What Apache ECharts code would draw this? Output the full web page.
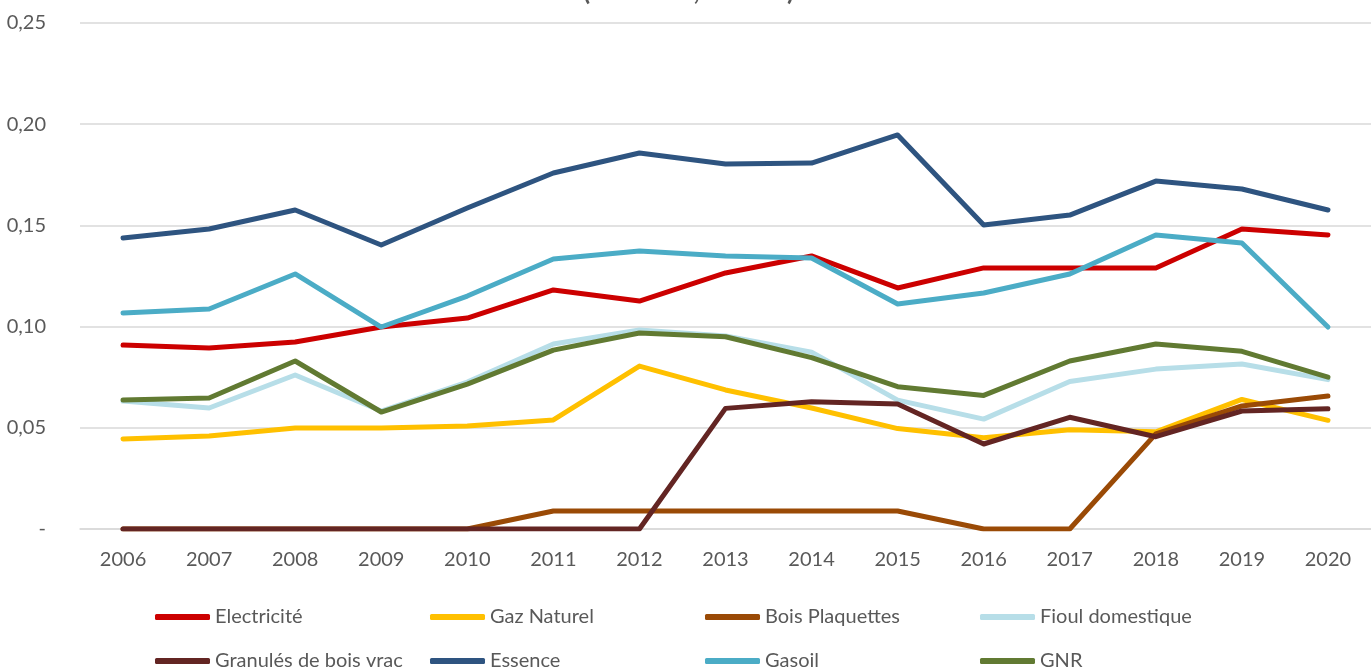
<!DOCTYPE html>
<html>
<head>
<meta charset="utf-8">
<script src="https://cdn.jsdelivr.net/npm/echarts@6/dist/echarts.min.js"></script>
<style>
  html, body { margin: 0; padding: 0; background: #fff; }
  #chart { width: 1371px; height: 672px; }
</style>
</head>
<body>
<div id="chart"></div>
<script>
const years = ['2006', '2007', '2008', '2009', '2010', '2011', '2012', '2013', '2014', '2015', '2016', '2017', '2018', '2019', '2020']

const electricite = [0.0909, 0.0894, 0.0924, 0.0998, 0.1042, 0.1181, 0.1126, 0.1265, 0.1349, 0.1191, 0.1290, 0.1290, 0.1290, 0.1482, 0.1453]
const gazNaturel = [0.0445, 0.0459, 0.0499, 0.0499, 0.0509, 0.0539, 0.0805, 0.0687, 0.0598, 0.0496, 0.0451, 0.0490, 0.0480, 0.0640, 0.0537]
const boisPlaquettes = [0, 0, 0, 0, 0, 0.0089, 0.0089, 0.0089, 0.0089, 0.0089, 0, 0, 0.0470, 0.0608, 0.0657]
const fioul = [0.0632, 0.0598, 0.0761, 0.0583, 0.0726, 0.0914, 0.0983, 0.0954, 0.0874, 0.0637, 0.0543, 0.0729, 0.0790, 0.0815, 0.0738]
const granules = [0, 0, 0, 0, 0, 0, 0, 0.0596, 0.0629, 0.0618, 0.0420, 0.0552, 0.0456, 0.0583, 0.0594]
const essence = [0.1438, 0.1482, 0.1576, 0.1403, 0.1586, 0.1759, 0.1858, 0.1803, 0.1808, 0.1947, 0.1502, 0.1551, 0.1719, 0.1680, 0.1576]
const gasoil = [0.1067, 0.1087, 0.1260, 0.0998, 0.1151, 0.1334, 0.1374, 0.1349, 0.1339, 0.1112, 0.1166, 0.1260, 0.1453, 0.1413, 0.0998]
const gnr = [0.0637, 0.0647, 0.0830, 0.0578, 0.0716, 0.0884, 0.0968, 0.0950, 0.0847, 0.0703, 0.0660, 0.0830, 0.0914, 0.0878, 0.0750]

const names = ['Electricité', 'Gaz Naturel', 'Bois Plaquettes', 'Fioul domestique', 'Granulés de bois vrac', 'Essence', 'Gasoil', 'GNR']
const values = [electricite, gazNaturel, boisPlaquettes, fioul, granules, essence, gasoil, gnr]
const colors = ['#CC0000', '#FFC000', '#9A4A06', '#B7DEE8', '#632523', '#2E5480', '#4BACC6', '#617A32']

const font = 'Lato, "Open Sans", sans-serif'

const chart = echarts.init(document.getElementById('chart'), null, { renderer: 'canvas' })

const option = {
  animation: false,
  textStyle: { fontFamily: font },
  title: {
    text: '(en € TTC, le kWh)',
    left: 583,
    top: -21,
    padding: 0,
    textStyle: { fontFamily: font, fontSize: 26, fontWeight: 'bold', color: '#595959' }
  },
  color: colors,
  grid: { left: 80, right: -16, top: 23, bottom: 143 },
  xAxis: {
    type: 'category',
    data: years,
    boundaryGap: true,
    axisLine: { show: true, lineStyle: { color: '#D9D9D9', width: 1.5 } },
    axisTick: { show: false },
    axisLabel: { color: '#595959', fontSize: 20, margin: 21, fontFamily: font }
  },
  yAxis: {
    type: 'value',
    min: 0,
    max: 0.25,
    interval: 0.05,
    axisLine: { show: false },
    axisTick: { show: false },
    splitLine: { lineStyle: { color: '#D9D9D9', width: 1.5 } },
    axisLabel: {
      color: '#595959',
      fontSize: 20,
      margin: 34,
      fontFamily: font,
      formatter: function (v) {
        if (v === 0) return '-'
        return v.toFixed(2).replace('.', ',')
      }
    }
  },
  legend: {
    data: names,
    left: 155,
    top: 595,
    padding: 0,
    width: 1100,
    itemGap: 0,
    itemWidth: 55,
    itemHeight: 6,
    itemTextGap: 3,
    icon: 'roundRect',
    textStyle: { color: '#595959', fontSize: 20, width: 215, lineHeight: 44, fontFamily: font }
  },
  series: names.map(function (name, i) {
    return {
      name: name,
      type: 'line',
      data: values[i],
      symbol: 'none',
      lineStyle: { width: 5, color: colors[i], cap: 'round', join: 'round' },
      itemStyle: { color: colors[i] }
    }
  })
}

chart.setOption(option)
</script>
</body>
</html>
